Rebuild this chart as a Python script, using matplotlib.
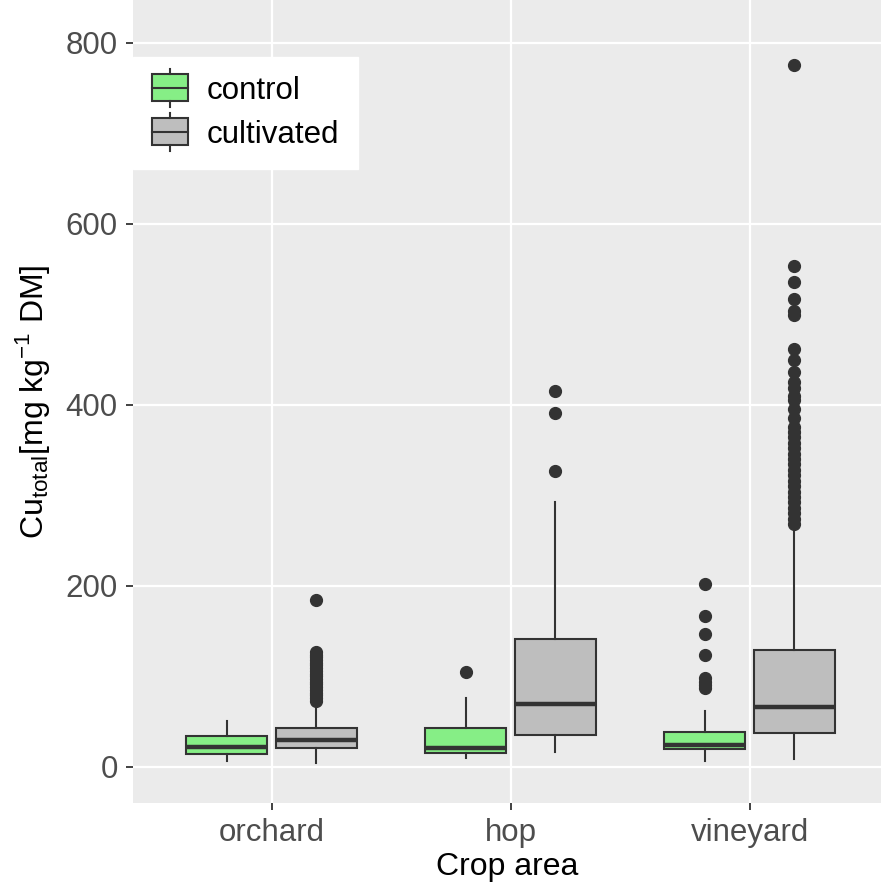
import matplotlib.pyplot as plt
from matplotlib.patches import Patch
from matplotlib.legend_handler import HandlerBase
from matplotlib.patches import Rectangle
from matplotlib.lines import Line2D

plt.rcParams['font.family'] = ['Liberation Sans', 'DejaVu Sans']
plt.rcParams['mathtext.fontset'] = 'custom'
plt.rcParams['mathtext.rm'] = 'Liberation Sans'

areas = ["orchard", "hop", "vineyard"]
groups = ["control", "cultivated"]
colors = {"control": "#86EE86", "cultivated": "#BEBEBE"}

# box stats: whislo, q1, med, q3, whishi
control_stats = [
    [6, 14, 22, 33.5, 51],
    [10, 15, 20.5, 42.5, 76],
    [6, 19.5, 24.5, 38, 62],
]
cultivated_stats = [
    [4, 20.5, 30, 43, 70],
    [16, 35.5, 69, 141, 292],
    [8.5, 37, 66.5, 129, 265],
]
control_fliers = [
    [],
    [105],
    [202, 167, 147, 123, 98, 94, 90, 87],
]
cultivated_fliers = [
    [184, 127, 124, 121, 118, 115, 112, 109, 106, 103, 100, 97, 94, 91, 88, 85, 82, 79, 76, 73],
    [415, 391, 327],
    [775, 553, 535, 517, 504, 499, 462, 449, 436, 425, 418, 410, 405, 395, 385, 375,
     370, 364, 358, 352, 346, 340, 334, 328, 322, 316, 310, 304, 298, 292, 286,
     280, 274, 268],
]

fig = plt.figure(figsize=(8.81, 8.85), dpi=100)
ax = fig.add_axes([133 / 881, 82 / 885, 748 / 881, 803 / 885])
ax.set_facecolor("#EBEBEB")
for s in ax.spines.values():
    s.set_visible(False)
ax.grid(True, color="white", linewidth=1.6)
ax.set_axisbelow(True)

offset = 0.1875
width = 0.34
edge = "#333333"
for grp, stats, fliers, sign in [("control", control_stats, control_fliers, -1),
                                 ("cultivated", cultivated_stats, cultivated_fliers, 1)]:
    bxp = []
    for st, fl in zip(stats, fliers):
        bxp.append(dict(whislo=st[0], q1=st[1], med=st[2], q3=st[3], whishi=st[4], fliers=fl))
    pos = [i + 1 + sign * offset for i in range(len(areas))]
    ax.bxp(bxp, positions=pos, widths=width, patch_artist=True, showcaps=False,
           boxprops=dict(facecolor=colors[grp], edgecolor=edge, linewidth=1.5),
           medianprops=dict(color=edge, linewidth=3.2),
           whiskerprops=dict(color=edge, linewidth=1.5),
           flierprops=dict(marker="o", markerfacecolor=edge, markeredgecolor=edge,
                           markersize=8.5),
           manage_ticks=False)

ax.set_xlim(0.42, 3.55)
ax.set_ylim(-40, 847)
ax.set_xticks([1, 2, 3])
ax.set_xticklabels(areas)
ax.set_yticks([0, 200, 400, 600, 800])
ax.tick_params(axis="both", colors="#333333", labelcolor="#4D4D4D", labelsize=22.5,
               length=5, width=1.3)
ax.tick_params(axis="x", pad=6)
ax.tick_params(axis="y", pad=6)
ax.set_xlabel("Crop area", fontsize=23, labelpad=3)
ax.set_ylabel(r"Cu$_{\mathrm{total}}$[mg kg$^{-1}$ DM]", fontsize=23, labelpad=10)


class BoxHandler(HandlerBase):
    def create_artists(self, legend, orig_handle, xdescent, ydescent, width, height, fontsize, trans):
        fc = orig_handle.get_facecolor()
        cx = width / 2 - xdescent
        w = width
        y0 = -ydescent - height * 0.12
        y1 = -ydescent + height * 1.12
        r = Rectangle((cx - w / 2, y0), w, y1 - y0,
                      facecolor=fc, edgecolor=edge, linewidth=1.5, transform=trans)
        m = Line2D([cx - w / 2, cx + w / 2], [-ydescent + height / 2] * 2,
                   color=edge, linewidth=1.5, transform=trans)
        t = Line2D([cx, cx], [y1, y1 + height * 0.25],
                   color=edge, linewidth=1.5, transform=trans)
        b = Line2D([cx, cx], [y0, y0 - height * 0.25],
                   color=edge, linewidth=1.5, transform=trans)
        return [r, m, t, b]


handles = [Patch(facecolor=colors[g]) for g in groups]
leg = ax.legend(handles, groups, loc="upper left", bbox_to_anchor=(0.0, 0.929),
                fontsize=22.5, frameon=True, fancybox=False, framealpha=1,
                edgecolor="white", handler_map={Patch: BoxHandler()},
                handlelength=1.15, handletextpad=0.6, labelspacing=0.45,
                borderpad=0.6, borderaxespad=0)

fig.savefig("out.png", dpi=100)
